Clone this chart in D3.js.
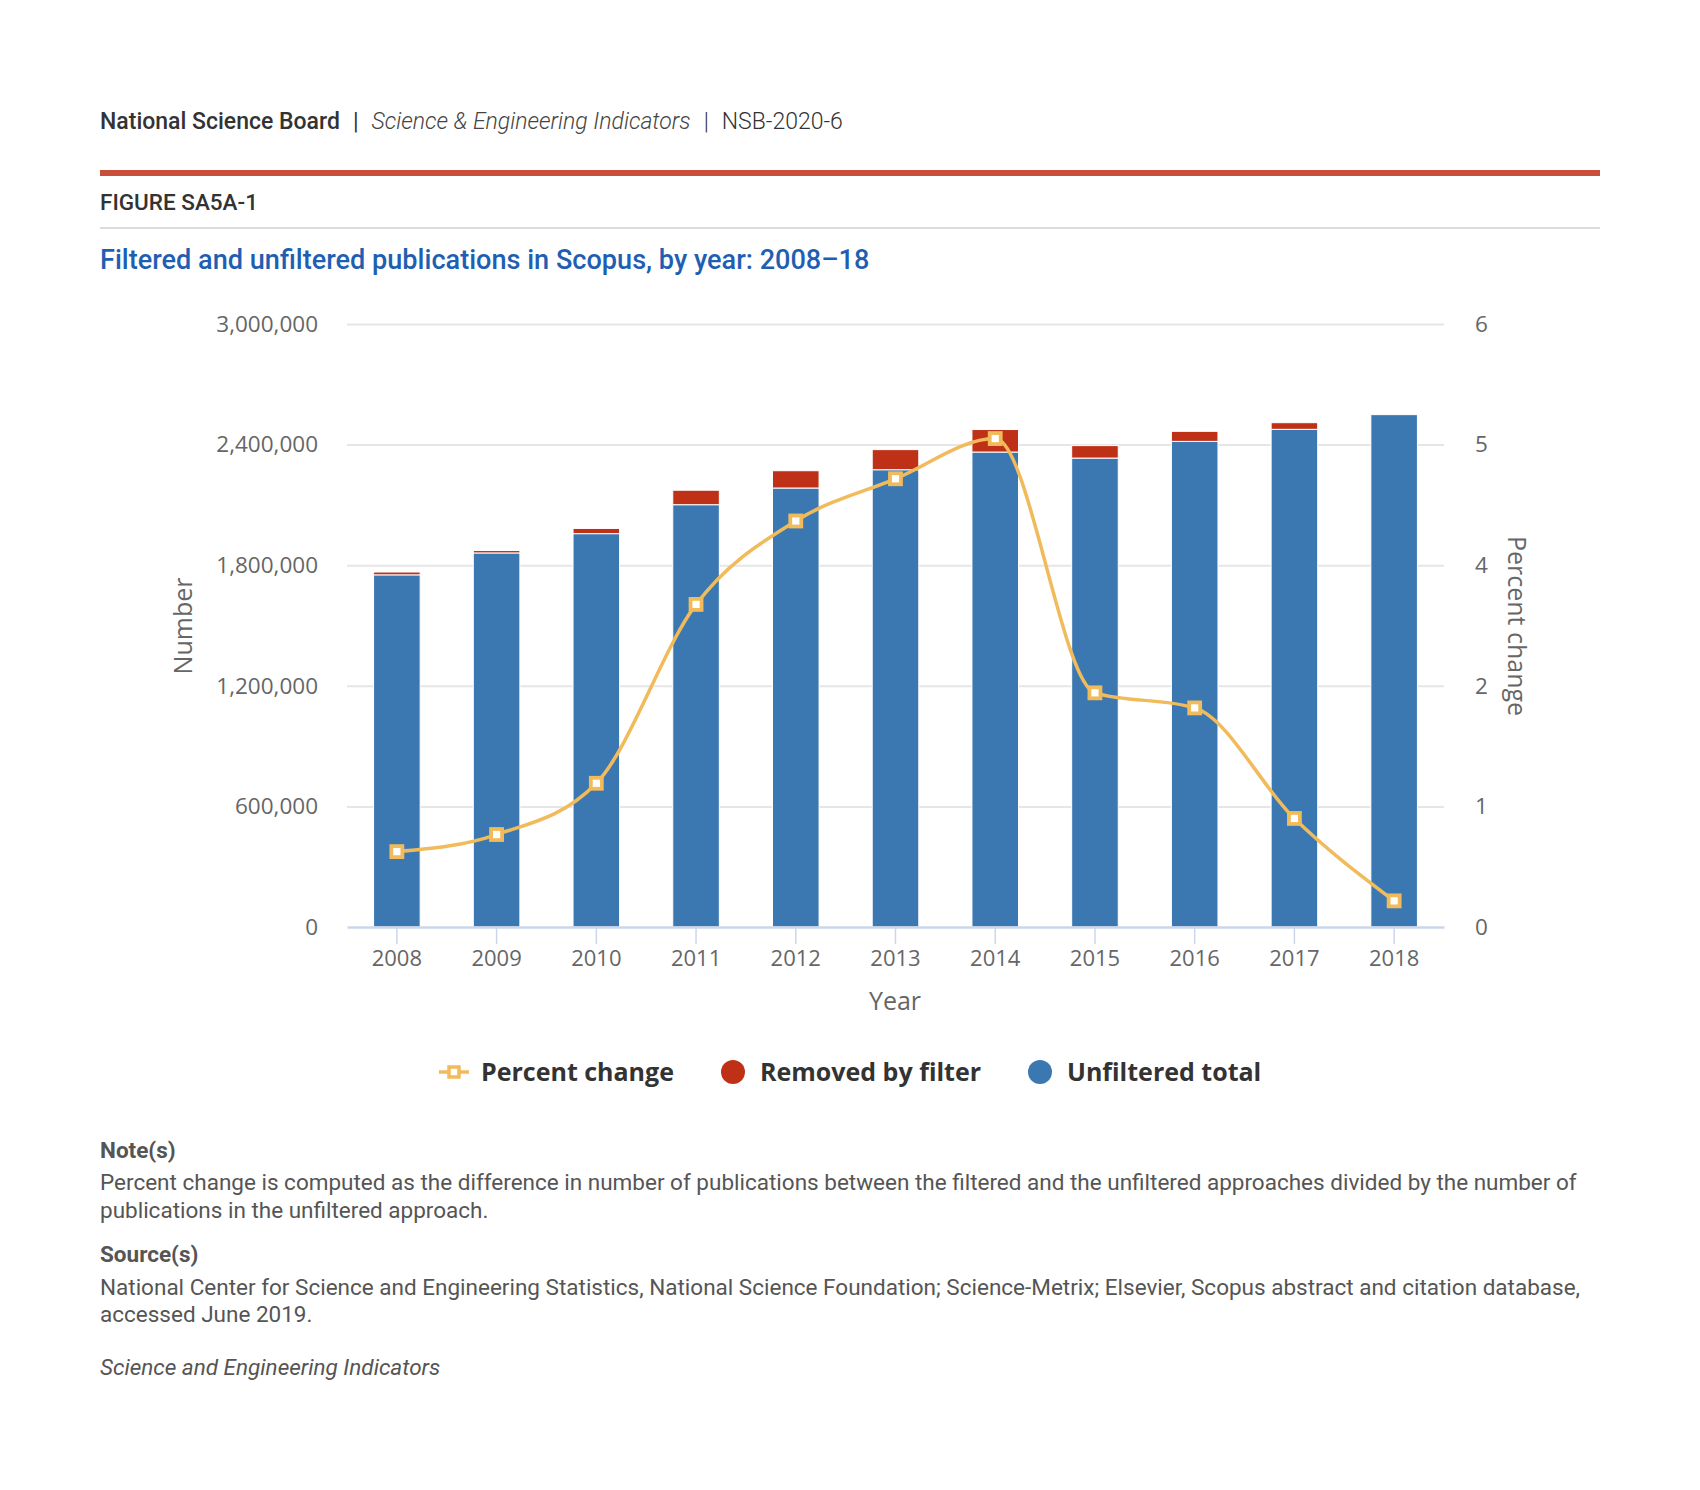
<!DOCTYPE html>
<html>
<head>
<meta charset="utf-8">
<script src="https://cdn.jsdelivr.net/npm/d3@7/dist/d3.min.js"></script>
<style>
  html, body { margin: 0; padding: 0; background: #fff; }
  svg { display: block; }
</style>
</head>
<body>
<svg id="chart" width="1700" height="1490"></svg>
<script>
// ---- data ----
const years = ["2008","2009","2010","2011","2012","2013","2014","2015","2016","2017","2018"];
const unfilteredTotal = [1752000, 1861000, 1957000, 2101000, 2184000, 2275000, 2363000, 2333000, 2416000, 2476000, 2549000];
const removedByFilter = [14000, 12000, 26000, 72000, 86000, 100000, 112000, 62000, 50000, 33000, 0];
const percentChange = [0.75, 0.92, 1.43, 3.21, 4.04, 4.46, 4.86, 2.33, 2.18, 1.08, 0.26];
const leftTicks = [0, 600000, 1200000, 1800000, 2400000, 3000000];
const rightTicks = [0, 1.2, 2.4, 3.6, 4.8, 6];
const rightTickLabels = ["0", "1", "2", "4", "5", "6"];
const seriesNames = ["Percent change", "Removed by filter", "Unfiltered total"];

const BLUE = "#3b78b1", RED = "#bf3117", ORANGE = "#f1bb5b";
const CH = "'Open Sans', 'Noto Sans', sans-serif";
const RB = "Roboto, 'Noto Sans', sans-serif";

const svg = d3.select("#chart");

// ---- header ----
const hdr = svg.append("text").attr("x", 100).attr("y", 129)
  .attr("font-family", RB).attr("font-size", 23).attr("fill", "#333");
hdr.append("tspan").attr("font-weight", 500).text("National Science Board");
hdr.append("tspan").attr("dx", 13).attr("font-weight", 400).text("|");
hdr.append("tspan").attr("dx", 13).attr("font-style", "italic").attr("font-weight", 300).attr("fill", "#444").text("Science & Engineering Indicators");
hdr.append("tspan").attr("dx", 13).attr("font-weight", 300).text("|");
hdr.append("tspan").attr("dx", 13).attr("font-weight", 300).text("NSB-2020-6");

svg.append("rect").attr("x", 100).attr("y", 170).attr("width", 1500).attr("height", 6).attr("fill", "#c8503a");
svg.append("text").attr("x", 100).attr("y", 210).attr("font-family", RB).attr("font-size", 22.5)
  .attr("font-weight", 500).attr("fill", "#333").text("FIGURE SA5A-1");
svg.append("rect").attr("x", 100).attr("y", 227).attr("width", 1500).attr("height", 2).attr("fill", "#dcdcdc");
svg.append("text").attr("x", 100).attr("y", 269).attr("font-family", RB).attr("font-size", 27.1)
  .attr("font-weight", 500).attr("fill", "#1f5fb3")
  .text("Filtered and unfiltered publications in Scopus, by year: 2008\u201318");

// ---- scales ----
const x = d3.scaleBand().domain(years).range([347, 1444]).paddingInner(0.533).paddingOuter(0.2665);
const yL = d3.scaleLinear().domain([0, 3000000]).range([927, 324]);
const yR = d3.scaleLinear().domain([0, 6]).range([927, 324]);

// gridlines
const grid = svg.append("g").attr("transform", "translate(347,0)")
  .call(d3.axisLeft(yL).tickValues(leftTicks.slice(1)).tickSize(-1097).tickFormat(""));
grid.select(".domain").remove();
grid.selectAll("line").attr("stroke", "#e6e6e6").attr("stroke-width", 2);

// left axis labels
const ax1 = svg.append("g").attr("transform", "translate(347,0)")
  .call(d3.axisLeft(yL).tickValues(leftTicks).tickSize(0).tickPadding(29).tickFormat(d3.format(",")));
ax1.select(".domain").remove();
ax1.selectAll("text").attr("font-family", CH).attr("font-size", 22.5).attr("fill", "#666");

// right axis labels
const ax2 = svg.append("g").attr("transform", "translate(1444,0)")
  .call(d3.axisRight(yR).tickValues(rightTicks).tickSize(0).tickPadding(31)
    .tickFormat((d, i) => rightTickLabels[i]));
ax2.select(".domain").remove();
ax2.selectAll("text").attr("font-family", CH).attr("font-size", 22.5).attr("fill", "#666");

// bars
const barG = svg.append("g");
barG.selectAll("rect.blue").data(years).join("rect").attr("class", "blue")
  .attr("x", d => x(d)).attr("width", x.bandwidth())
  .attr("y", (d, i) => yL(unfilteredTotal[i]))
  .attr("height", (d, i) => yL(0) - yL(unfilteredTotal[i]))
  .attr("fill", BLUE).attr("stroke", "#fff").attr("stroke-width", 1);
barG.selectAll("rect.red").data(years).join("rect").attr("class", "red")
  .attr("x", d => x(d)).attr("width", x.bandwidth())
  .attr("y", (d, i) => yL(unfilteredTotal[i] + removedByFilter[i]))
  .attr("height", (d, i) => yL(unfilteredTotal[i]) - yL(unfilteredTotal[i] + removedByFilter[i]))
  .attr("fill", RED).attr("stroke", "#fff").attr("stroke-width", 1)
  .attr("display", (d, i) => removedByFilter[i] > 0 ? null : "none");

// x axis
const ax3 = svg.append("g").attr("transform", "translate(0,927)")
  .call(d3.axisBottom(x).tickSize(17).tickSizeOuter(0).tickPadding(6));
ax3.select(".domain").attr("stroke", "#ccd6eb").attr("stroke-width", 2.5);
ax3.selectAll(".tick line").attr("stroke", "#ccd6eb").attr("stroke-width", 1.5);
ax3.selectAll("text").attr("font-family", CH).attr("font-size", 22).attr("fill", "#666");

// line
const cx = d => x(d) + x.bandwidth() / 2;
const line = d3.line().x((d, i) => cx(years[i])).y(d => yR(d)).curve(d3.curveMonotoneX);
svg.append("path").datum(percentChange).attr("d", line)
  .attr("fill", "none").attr("stroke", ORANGE).attr("stroke-width", 3.5);
svg.append("g").selectAll("rect").data(percentChange).join("rect")
  .attr("x", (d, i) => cx(years[i]) - 5.5).attr("y", d => yR(d) - 5.5)
  .attr("width", 11).attr("height", 11)
  .attr("fill", "#fff").attr("stroke", ORANGE).attr("stroke-width", 3.8);

// axis titles
svg.append("text").attr("transform", "translate(192,626) rotate(-90)").attr("text-anchor", "middle")
  .attr("font-family", CH).attr("font-size", 25).attr("fill", "#666").text("Number");
svg.append("text").attr("transform", "translate(1508,626) rotate(90)").attr("text-anchor", "middle")
  .attr("font-family", CH).attr("font-size", 25).attr("fill", "#666").text("Percent change");
svg.append("text").attr("x", 895).attr("y", 1010).attr("text-anchor", "middle")
  .attr("font-family", CH).attr("font-size", 25).attr("fill", "#666").text("Year");

// legend
const lg = svg.append("g").attr("font-family", CH).attr("font-size", 25).attr("font-weight", 700).attr("fill", "#333");
lg.append("line").attr("x1", 439).attr("x2", 469).attr("y1", 1072).attr("y2", 1072)
  .attr("stroke", ORANGE).attr("stroke-width", 3.5);
lg.append("rect").attr("x", 449).attr("y", 1067).attr("width", 10).attr("height", 10)
  .attr("fill", "#fff").attr("stroke", ORANGE).attr("stroke-width", 3.5);
lg.append("text").attr("x", 481).attr("y", 1081).text(seriesNames[0]);
lg.append("circle").attr("cx", 733).attr("cy", 1072).attr("r", 12).attr("fill", RED);
lg.append("text").attr("x", 760).attr("y", 1081).text(seriesNames[1]);
lg.append("circle").attr("cx", 1040).attr("cy", 1072).attr("r", 12).attr("fill", BLUE);
lg.append("text").attr("x", 1067).attr("y", 1081).text(seriesNames[2]);

// notes
const nt = svg.append("g").attr("font-family", RB).attr("font-size", 22.5).attr("fill", "#555");
nt.append("text").attr("x", 100).attr("y", 1158).attr("font-weight", 700).text("Note(s)");
nt.append("text").attr("x", 100).attr("y", 1190)
  .text("Percent change is computed as the difference in number of publications between the filtered and the unfiltered approaches divided by the number of");
nt.append("text").attr("x", 100).attr("y", 1218).text("publications in the unfiltered approach.");
nt.append("text").attr("x", 100).attr("y", 1262).attr("font-weight", 700).text("Source(s)");
nt.append("text").attr("x", 100).attr("y", 1295)
  .text("National Center for Science and Engineering Statistics, National Science Foundation; Science-Metrix; Elsevier, Scopus abstract and citation database,");
nt.append("text").attr("x", 100).attr("y", 1322).text("accessed June 2019.");
nt.append("text").attr("x", 100).attr("y", 1375).attr("font-style", "italic").text("Science and Engineering Indicators");
</script>
</body>
</html>
